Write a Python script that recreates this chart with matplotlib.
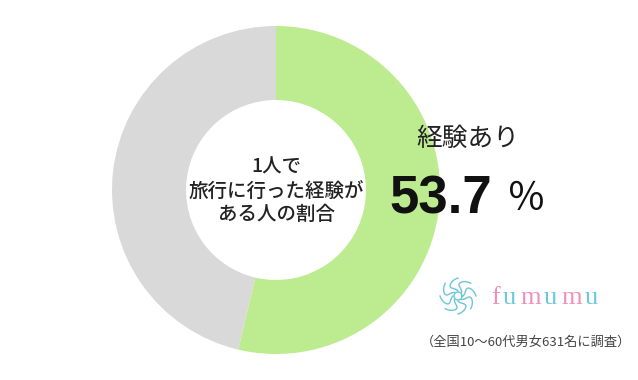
import matplotlib
matplotlib.use("Agg")
import matplotlib.pyplot as plt
import numpy as np

plt.rcParams['font.family'] = ['Noto Sans CJK JP', 'DejaVu Sans']

labels = ["経験あり", "経験なし"]
values = [53.7, 46.3]
colors = ["#bdeb8f", "#d9d9d9"]
center_title = "1人で\n旅行に行った経験が\nある人の割合"
footer = "（全国10〜60代男女631名に調査）"
brand = "fumumu"

fig = plt.figure(figsize=(6.38, 3.8), dpi=100)
ax = fig.add_axes([0, 0, 1, 1])

ax.pie(values, colors=colors, startangle=90, counterclock=False,
       center=(276, 190), radius=164,
       wedgeprops=dict(width=74, edgecolor='none'))
ax.set_xlim(0, 638)
ax.set_ylim(0, 380)
ax.set_aspect('equal')
ax.axis('off')

ax.text(276, 189, center_title, ha='center', va='center', fontsize=14,
        color='#222222', linespacing=1.3, fontweight='medium')

ax.text(416, 241, labels[0], ha='left', va='center', fontsize=18.5, color='#222222')
ax.text(389, 181, f"{values[0]}", ha='left', va='center', fontsize=38,
        fontweight='bold', color='#111111', family=['Liberation Sans', 'DejaVu Sans'])
ax.text(507, 181, "％", ha='left', va='center', fontsize=28, color='#111111')

# logo
cx, cy = 458, 84
for k in range(8):
    a = k * np.pi / 4
    t = np.linspace(0, 1, 30)
    r = 5 + 13 * t
    ang = a + 0.7 * np.sin(np.pi * t)
    ax.plot(cx + r * np.cos(ang), cy + r * np.sin(ang), color='#6cc6d8', lw=1)
ax.plot(cx + 4 * np.cos(np.linspace(0, 2*np.pi, 40)),
        cy + 4 * np.sin(np.linspace(0, 2*np.pi, 40)), color='#6cc6d8', lw=1)
xs = [491, 503, 520, 544, 561, 585]
for i, ch in enumerate(brand):
    ax.text(xs[i], 82, ch, ha='left', va='center', fontsize=19,
            color='#f08fb8' if i % 2 == 0 else '#6cc9d9',
            family=['Liberation Serif'])

ax.text(526, 38, footer, ha='center', va='center', fontsize=9.5, color='#444444')

fig.savefig("out.png", dpi=100)
